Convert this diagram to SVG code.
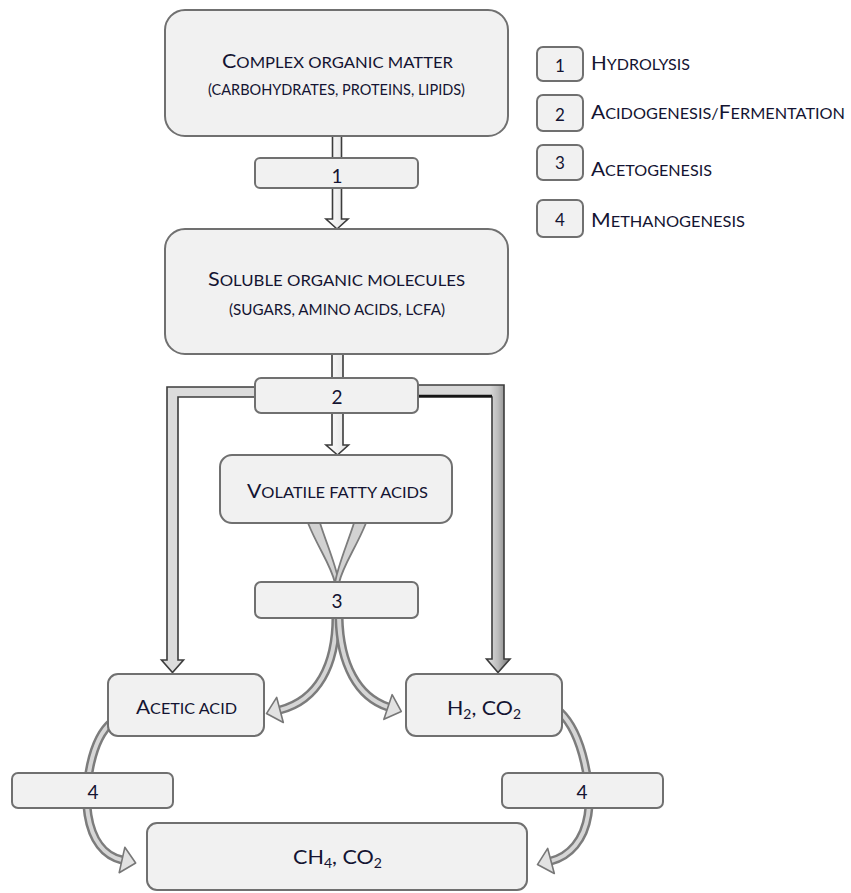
<svg xmlns="http://www.w3.org/2000/svg" width="851" height="893" viewBox="0 0 851 893">
<defs>
<style>
.box{fill:#f1f1f1;stroke:#707070;stroke-width:2}
.t{font-family:Lato,"Open Sans","Liberation Sans",sans-serif;fill:#141432;text-anchor:middle}
.tl{font-family:Lato,"Open Sans","Liberation Sans",sans-serif;fill:#141432}
.cap{font-size:20px}
.sc{font-size:15.5px}
.num{font-size:19px}
.lnum{font-size:17px}
.sub{font-size:13px}
.shaft{stroke:#3c3c3c;stroke-width:1.6;stroke-linejoin:miter}
.rib-o{fill:none;stroke:#7c7c7c;stroke-width:9}
.rib-i{fill:none;stroke:#d6d6d6;stroke-width:4}
.funnel{fill:#d2d2d2;stroke:#7c7c7c;stroke-width:1.8;stroke-linejoin:round}
</style>
<linearGradient id="gWhite" x1="0" y1="0" x2="1" y2="0">
<stop offset="0" stop-color="#ffffff"/><stop offset="1" stop-color="#e2e2e2"/>
</linearGradient>
<linearGradient id="gGrey" gradientUnits="userSpaceOnUse" x1="490" y1="0" x2="506" y2="0">
<stop offset="0" stop-color="#d8d8d8"/><stop offset="0.5" stop-color="#bcbcbc"/><stop offset="1" stop-color="#8c8c8c"/>
</linearGradient>
<marker id="head" markerUnits="userSpaceOnUse" markerWidth="18" markerHeight="32" viewBox="0 0 18 32" refX="2" refY="16" orient="auto">
<path d="M2,3 L16,16 L2,29 Z" fill="#e2e2e2" stroke="#777" stroke-width="1.6" stroke-linejoin="round"/>
</marker>
</defs>

<rect width="851" height="893" fill="#ffffff"/>

<!-- connectors -->
<g id="connectors">
  <!-- hydrolysis -->
  <path class="shaft" fill="url(#gWhite)" d="M332.5,136 L341.5,136 L341.5,219 L348,219 L337,229 L326,219 L332.5,219 Z"/>
  <!-- acidogenesis: centre branch -->
  <path class="shaft" fill="url(#gWhite)" d="M332,354 L343,354 L343,445 L348.5,445 L337.5,455 L326,445 L332,445 Z"/>
  <!-- acidogenesis: left branch to acetic acid -->
  <path class="shaft" fill="#dcdcdc" d="M337,387 L167,387 L167,660 L161.5,660 L172.5,672.5 L183.5,660 L178,660 L178,397 L337,397 Z"/>
  <!-- acidogenesis: right branch to H2, CO2 -->
  <path class="shaft" fill="url(#gGrey)" d="M337,385 L504,385 L504,659 L510,659 L498,672.5 L486.5,659 L492,659 L492,397 L337,397 Z"/>
  <line x1="418" y1="396" x2="492" y2="396" stroke="#151515" stroke-width="2.5"/>

  <!-- acetogenesis: curved bands merging into step 3 -->
  <path class="funnel" d="M308,523 C318,548 331,565 335,583 L339,583 C336,565 327,545 320,523 Z"/>
  <path class="funnel" d="M366,523 C356,548 343,565 339,583 L335,583 C338,565 347,545 354,523 Z"/>

  <!-- acetogenesis: split to products -->
  <path class="rib-o" d="M336,617 C336,665 318,700 280,710"/>
  <path class="rib-i" marker-end="url(#head)" d="M336,617 C336,665 318,700 280,710"/>
  <path class="rib-o" d="M339,617 C340,665 358,697 388,707"/>
  <path class="rib-i" marker-end="url(#head)" d="M339,617 C340,665 358,697 388,707"/>

  <!-- methanogenesis -->
  <path class="rib-o" d="M112,722 C90,740 84,790 88,815 C92,840 104,856 122,860"/>
  <path class="rib-i" marker-end="url(#head)" d="M112,722 C90,740 84,790 88,815 C92,840 104,856 122,860"/>
  <path class="rib-o" d="M560,712 C584,735 592,790 588,815 C584,840 570,856 551,861"/>
  <path class="rib-i" marker-end="url(#head)" d="M560,712 C584,735 592,790 588,815 C584,840 570,856 551,861"/>
</g>

<!-- process nodes -->
<g id="complex-organic-matter">
  <rect class="box" x="165" y="10" width="343" height="126" rx="20"/>
  <text class="t" x="337.5" y="68" textLength="231" lengthAdjust="spacingAndGlyphs"><tspan class="cap">C</tspan><tspan class="sc">OMPLEX ORGANIC MATTER</tspan></text>
  <text class="t sc" x="336.5" y="95" textLength="257" lengthAdjust="spacingAndGlyphs">(CARBOHYDRATES, PROTEINS, LIPIDS)</text>
</g>

<g id="step-1">
  <rect class="box" x="255" y="158" width="163" height="30" rx="5"/>
  <text class="t num" x="337" y="183">1</text>
</g>

<g id="soluble-organic-molecules">
  <rect class="box" x="165" y="229" width="343" height="125" rx="20"/>
  <text class="t" x="336.5" y="286" textLength="257" lengthAdjust="spacingAndGlyphs"><tspan class="cap">S</tspan><tspan class="sc">OLUBLE ORGANIC MOLECULES</tspan></text>
  <text class="t sc" x="337" y="315" textLength="216" lengthAdjust="spacingAndGlyphs">(SUGARS, AMINO ACIDS, LCFA)</text>
</g>

<g id="step-2">
  <rect class="box" x="255" y="378" width="163" height="35" rx="6"/>
  <text class="t num" x="337" y="404">2</text>
</g>

<g id="volatile-fatty-acids">
  <rect class="box" x="220" y="455" width="232" height="68" rx="12"/>
  <text class="t" x="337.5" y="498" textLength="181" lengthAdjust="spacingAndGlyphs"><tspan class="cap">V</tspan><tspan class="sc">OLATILE FATTY ACIDS</tspan></text>
</g>

<g id="step-3">
  <rect class="box" x="255" y="582" width="163" height="36" rx="6"/>
  <text class="t num" x="337" y="608">3</text>
</g>

<g id="acetic-acid">
  <rect class="box" x="108" y="674" width="156" height="62" rx="10"/>
  <text class="t" x="186.5" y="714" textLength="101" lengthAdjust="spacingAndGlyphs"><tspan class="cap">A</tspan><tspan class="sc">CETIC ACID</tspan></text>
</g>

<g id="h2-co2">
  <rect class="box" x="406" y="674" width="156" height="62" rx="10"/>
  <text class="t cap" x="484" y="715" textLength="74" lengthAdjust="spacingAndGlyphs">H<tspan class="sub" dy="4">2</tspan><tspan dy="-4">, CO</tspan><tspan class="sub" dy="4">2</tspan></text>
</g>

<g id="step-4-acetoclastic">
  <rect class="box" x="12" y="773" width="161" height="35" rx="6"/>
  <text class="t num" x="93" y="799">4</text>
</g>

<g id="step-4-hydrogenotrophic">
  <rect class="box" x="502" y="773" width="161" height="35" rx="6"/>
  <text class="t num" x="582" y="799">4</text>
</g>

<g id="ch4-co2">
  <rect class="box" x="147" y="823" width="380" height="67" rx="10"/>
  <text class="t cap" x="337.5" y="864" textLength="89" lengthAdjust="spacingAndGlyphs">CH<tspan class="sub" dy="4">4</tspan><tspan dy="-4">, CO</tspan><tspan class="sub" dy="4">2</tspan></text>
</g>

<!-- legend -->
<g id="legend-1">
  <rect class="box" x="537" y="47" width="46" height="34" rx="6"/>
  <text class="t lnum" x="560" y="72">1</text>
  <text class="tl" x="591" y="70" textLength="99" lengthAdjust="spacingAndGlyphs"><tspan class="cap">H</tspan><tspan class="sc">YDROLYSIS</tspan></text>
</g>
<g id="legend-2">
  <rect class="box" x="537" y="95" width="46" height="36" rx="6"/>
  <text class="t lnum" x="560" y="121">2</text>
  <text class="tl" x="591" y="119" textLength="254" lengthAdjust="spacingAndGlyphs"><tspan class="cap">A</tspan><tspan class="sc">CIDOGENESIS/</tspan><tspan class="cap">F</tspan><tspan class="sc">ERMENTATION</tspan></text>
</g>
<g id="legend-3">
  <rect class="box" x="537" y="145" width="46" height="35" rx="6"/>
  <text class="t lnum" x="560" y="169">3</text>
  <text class="tl" x="591" y="176" textLength="121" lengthAdjust="spacingAndGlyphs"><tspan class="cap">A</tspan><tspan class="sc">CETOGENESIS</tspan></text>
</g>
<g id="legend-4">
  <rect class="box" x="537" y="200" width="46" height="37" rx="6"/>
  <text class="t lnum" x="560" y="226">4</text>
  <text class="tl" x="591" y="227" textLength="154" lengthAdjust="spacingAndGlyphs"><tspan class="cap">M</tspan><tspan class="sc">ETHANOGENESIS</tspan></text>
</g>
</svg>
